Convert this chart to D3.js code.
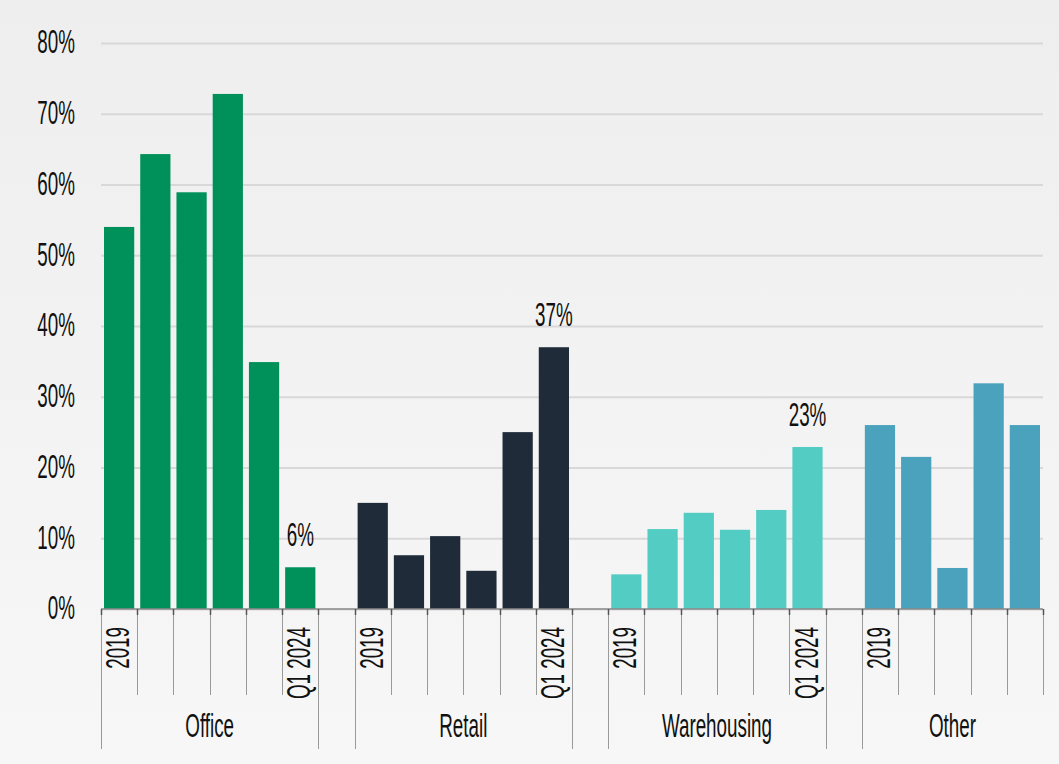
<!DOCTYPE html>
<html>
<head>
<meta charset="utf-8">
<script src="https://cdn.jsdelivr.net/npm/d3@7"></script>
<style>
  html, body { margin: 0; padding: 0; background: #f3f3f3; }
  svg { display: block; }
  text { font-family: "Liberation Sans", Arial, sans-serif; fill: #111; }
</style>
</head>
<body>
<svg width="1059" height="764"></svg>
<script>
// Categories and period labels
const groups = ["Office", "Retail", "Warehousing", "Other"];
const periodsLong = ["2019", "", "", "", "", "Q1 2024"];
const periodsShort = ["2019", "", "", "", ""];

// Values (share)
const officeValues = [0.540, 0.643, 0.589, 0.728, 0.349, 0.059];
const retailValues = [0.150, 0.076, 0.103, 0.054, 0.250, 0.370];
const warehousingValues = [0.049, 0.113, 0.136, 0.112, 0.140, 0.229];
const otherValues = [0.260, 0.215, 0.058, 0.319, 0.260];

// Callouts on the latest bar
const callouts = ["6%", "37%", "23%", null];

const yTicks = [0, 0.1, 0.2, 0.3, 0.4, 0.5, 0.6, 0.7, 0.8];

const colors = ["#00915a", "#1f2b39", "#53cdc4", "#4aa2bd"];

const svg = d3.select("svg"),
    width = +svg.attr("width"),
    height = +svg.attr("height");

const margin = {left: 101, right: 16, top: 43, bottom: 155};
const textScale = 0.57;
const fontSize = "33px";

// background gradient
const defs = svg.append("defs");
const grad = defs.append("linearGradient")
    .attr("id", "bg").attr("x1", 0).attr("x2", 0).attr("y1", 0).attr("y2", 1);
grad.append("stop").attr("offset", "0%").attr("stop-color", "#eeeeee");
grad.append("stop").attr("offset", "100%").attr("stop-color", "#f7f7f7");
svg.append("rect").attr("width", width).attr("height", height).attr("fill", "url(#bg)");

// build slot list: each group's periods, then an empty gap slot between groups
const seriesValues = [officeValues, retailValues, warehousingValues, otherValues];
const seriesPeriods = [periodsLong, periodsLong, periodsLong, periodsShort];
const slots = [];
const bars = [];
groups.forEach(function(g, gi) {
    seriesValues[gi].forEach(function(v, i) {
        const id = g + "-" + i;
        slots.push(id);
        bars.push({id: id, group: gi, index: i, value: v, period: seriesPeriods[gi][i],
            last: i === seriesValues[gi].length - 1});
    });
    if (gi < groups.length - 1) slots.push("gap-" + gi);
});

const x = d3.scaleBand()
    .domain(slots)
    .range([margin.left, width - margin.right])
    .padding(0);

const y = d3.scaleLinear()
    .domain([0, 0.8])
    .range([height - margin.bottom, margin.top]);

const y0 = y(0);

// gridlines + y labels
const yAxis = svg.append("g")
    .attr("transform", `translate(${margin.left},0)`)
    .call(d3.axisLeft(y)
        .tickValues(yTicks)
        .tickFormat(d3.format(".0%"))
        .tickSize(-(width - margin.right - margin.left))
        .tickPadding(26));
yAxis.select(".domain").remove();
yAxis.selectAll(".tick line")
    .attr("stroke", "#d8d8d8")
    .attr("stroke-width", 2);
yAxis.selectAll(".tick text")
    .style("font-size", fontSize)
    .attr("fill", "#111")
    .attr("x", -26 / textScale)
    .attr("dy", "0.3em")
    .attr("transform", `scale(${textScale},1)`);

// bars
const bw = x.bandwidth();
svg.append("g")
    .selectAll("rect")
    .data(bars)
    .join("rect")
        .attr("x", d => x(d.id) + 3)
        .attr("width", bw - 6)
        .attr("y", d => y(d.value))
        .attr("height", d => y0 - y(d.value))
        .attr("fill", d => colors[d.group]);

// callout labels
svg.append("g")
    .selectAll("text")
    .data(bars.filter(d => d.last && callouts[d.group]))
    .join("text")
        .attr("transform", d => `translate(${x(d.id) + bw / 2},${y(d.value) - 21}) scale(${textScale},1)`)
        .attr("text-anchor", "middle")
        .style("font-size", fontSize)
        .text(d => callouts[d.group]);

// x axis: baseline, slot ticks, group separators
const axisG = svg.append("g");
const shortBottom = 695, longBottom = 749;
axisG.append("line")
    .attr("x1", margin.left).attr("x2", width - margin.right)
    .attr("y1", y0).attr("y2", y0)
    .attr("stroke", "#8a8a8a").attr("stroke-width", 1.5);

const boundaries = [];
slots.forEach(function(s, i) {
    const isGap = s.startsWith("gap");
    const prev = slots[i - 1];
    const long = i === 0 || isGap || (prev && prev.startsWith("gap"));
    boundaries.push({x: x(s), long: long});
});
boundaries.push({x: x(slots[slots.length - 1]) + bw, long: false});

axisG.selectAll("line.sep")
    .data(boundaries)
    .join("line")
        .attr("class", "sep")
        .attr("x1", d => Math.round(d.x) + 0.5).attr("x2", d => Math.round(d.x) + 0.5)
        .attr("y1", y0).attr("y2", d => d.long ? longBottom : shortBottom)
        .attr("stroke", "#9a9a9a").attr("stroke-width", 1);
axisG.selectAll("line.tk")
    .data(boundaries)
    .join("line")
        .attr("class", "tk")
        .attr("x1", d => Math.round(d.x) + 0.5).attr("x2", d => Math.round(d.x) + 0.5)
        .attr("y1", y0).attr("y2", y0 + 6)
        .attr("stroke", "#555").attr("stroke-width", 1.5);

// rotated period labels
svg.append("g")
    .selectAll("text")
    .data(bars.filter(d => d.period))
    .join("text")
        .attr("transform", d => `translate(${x(d.id) + bw / 2 + 10},627) rotate(-90) scale(${textScale},1)`)
        .attr("text-anchor", "end")
        .style("font-size", fontSize)
        .text(d => d.period);

// group labels
svg.append("g")
    .selectAll("text")
    .data(groups)
    .join("text")
        .attr("transform", function(g, gi) {
            const n = seriesValues[gi].length;
            const x1 = x(g + "-0");
            const x2 = x(g + "-" + (n - 1)) + bw;
            return `translate(${(x1 + x2) / 2},737) scale(${textScale},1)`;
        })
        .attr("text-anchor", "middle")
        .style("font-size", fontSize)
        .text(d => d);
</script>
</body>
</html>
